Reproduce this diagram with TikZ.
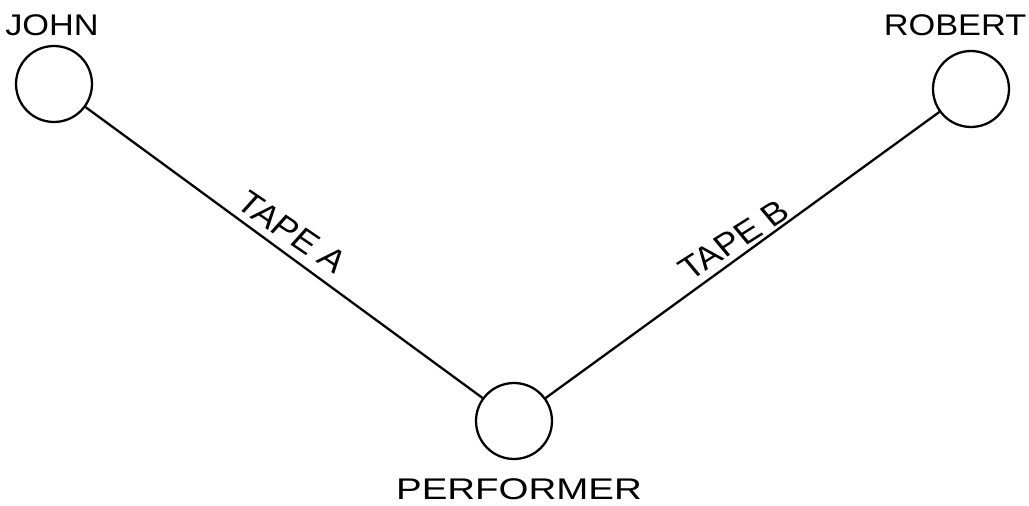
\documentclass[tikz,border=0pt]{standalone}
\usepackage{fontspec}
\setmainfont{Liberation Sans}
\begin{document}
\begin{tikzpicture}[x=0.02cm,y=-0.02cm,
  person/.style={draw, circle, line width=1.3pt, minimum size=1.52cm, inner sep=0pt},
  tape/.style={line width=1.3pt},
  lbl/.style={font=\fontsize{17}{20}\selectfont, inner sep=0pt, xscale=1.15}]
\useasboundingbox (0,0) rectangle (1029,506);
\node[person] (john) at (54,84) {};
\node[person] (robert) at (971,89) {};
\node[person] (perf) at (514,421) {};
\node[lbl] (jl) at (52,25) {JOHN};
\node[lbl] (rl) at (955,25) {ROBERT};
\node[lbl, xscale=1.12] (pl) at (519,489) {PERFORMER};
\draw[tape] (john) -- (perf);
\draw[tape] (perf) -- (robert);
\node[lbl, rotate=-38, font=\fontsize{18}{20}\selectfont] (ta) at (292,232) {TAPE A};
\node[lbl, rotate=36, font=\fontsize{18}{20}\selectfont] (tb) at (734,240) {TAPE B};
\end{tikzpicture}
\end{document}
